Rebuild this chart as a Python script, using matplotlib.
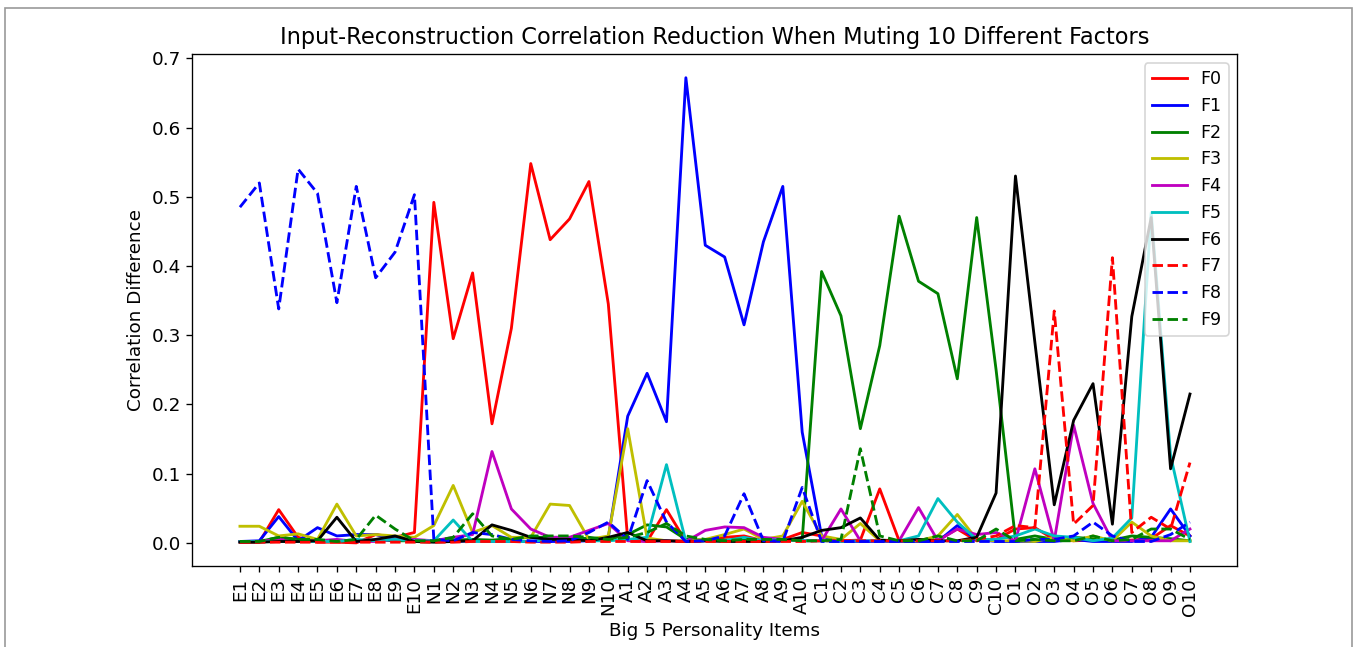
import matplotlib
matplotlib.use("Agg")
import matplotlib.pyplot as plt
from matplotlib.patches import Rectangle

# ===============================
# data
# ===============================
items = ([f"E{i}" for i in range(1, 11)] + [f"N{i}" for i in range(1, 11)]
         + [f"A{i}" for i in range(1, 11)] + [f"C{i}" for i in range(1, 11)]
         + [f"O{i}" for i in range(1, 11)])

f0 = [0.001, 0.001, 0.048, 0.008, 0.001, 0.001, 0.000, 0.012, 0.008, 0.015,
      0.492, 0.295, 0.390, 0.172, 0.310, 0.548, 0.438, 0.468, 0.522, 0.345,
      0.005, 0.002, 0.048, 0.002, 0.003, 0.008, 0.010, 0.003, 0.005, 0.015,
      0.010, 0.003, 0.004, 0.078, 0.003, 0.004, 0.004, 0.020, 0.003, 0.005,
      0.020, 0.022, 0.005, 0.003, 0.004, 0.003, 0.004, 0.006, 0.025, 0.010]
f1 = [0.002, 0.003, 0.038, 0.003, 0.022, 0.010, 0.012, 0.012, 0.006, 0.003,
      0.002, 0.002, 0.003, 0.002, 0.002, 0.002, 0.002, 0.002, 0.003, 0.008,
      0.183, 0.245, 0.175, 0.672, 0.430, 0.413, 0.315, 0.435, 0.515, 0.160,
      0.010, 0.002, 0.002, 0.002, 0.002, 0.002, 0.002, 0.025, 0.005, 0.002,
      0.002, 0.002, 0.002, 0.005, 0.002, 0.002, 0.002, 0.008, 0.049, 0.010]
f2 = [0.002, 0.002, 0.008, 0.005, 0.004, 0.003, 0.003, 0.004, 0.003, 0.003,
      0.003, 0.004, 0.005, 0.004, 0.006, 0.008, 0.008, 0.008, 0.006, 0.005,
      0.012, 0.026, 0.023, 0.005, 0.004, 0.004, 0.004, 0.003, 0.003, 0.005,
      0.392, 0.328, 0.165, 0.285, 0.472, 0.378, 0.360, 0.237, 0.470, 0.250,
      0.005, 0.010, 0.005, 0.008, 0.006, 0.004, 0.010, 0.008, 0.006, 0.003]
f3 = [0.024, 0.024, 0.010, 0.013, 0.005, 0.056, 0.010, 0.012, 0.010, 0.008,
      0.025, 0.083, 0.015, 0.025, 0.008, 0.008, 0.056, 0.054, 0.005, 0.010,
      0.165, 0.007, 0.003, 0.003, 0.005, 0.012, 0.020, 0.005, 0.010, 0.060,
      0.010, 0.005, 0.028, 0.003, 0.003, 0.003, 0.010, 0.041, 0.005, 0.003,
      0.003, 0.002, 0.008, 0.003, 0.010, 0.003, 0.030, 0.010, 0.003, 0.003]
f4 = [0.002, 0.002, 0.005, 0.002, 0.003, 0.005, 0.002, 0.002, 0.005, 0.005,
      0.003, 0.008, 0.012, 0.132, 0.049, 0.020, 0.008, 0.008, 0.018, 0.028,
      0.003, 0.002, 0.003, 0.002, 0.018, 0.023, 0.022, 0.008, 0.005, 0.003,
      0.003, 0.049, 0.003, 0.003, 0.003, 0.051, 0.003, 0.020, 0.012, 0.015,
      0.003, 0.107, 0.003, 0.170, 0.057, 0.003, 0.003, 0.003, 0.003, 0.020]
f5 = [0.002, 0.002, 0.002, 0.002, 0.002, 0.002, 0.005, 0.003, 0.005, 0.003,
      0.003, 0.033, 0.002, 0.002, 0.002, 0.002, 0.005, 0.005, 0.003, 0.003,
      0.005, 0.008, 0.113, 0.002, 0.003, 0.003, 0.008, 0.003, 0.005, 0.003,
      0.003, 0.002, 0.003, 0.003, 0.003, 0.010, 0.064, 0.030, 0.005, 0.005,
      0.010, 0.020, 0.010, 0.008, 0.003, 0.007, 0.036, 0.477, 0.126, 0.002]
f6 = [0.001, 0.001, 0.002, 0.002, 0.003, 0.037, 0.002, 0.005, 0.010, 0.002,
      0.001, 0.002, 0.003, 0.026, 0.018, 0.008, 0.005, 0.005, 0.003, 0.008,
      0.015, 0.003, 0.003, 0.002, 0.003, 0.002, 0.002, 0.002, 0.003, 0.008,
      0.018, 0.022, 0.036, 0.004, 0.003, 0.005, 0.003, 0.003, 0.008, 0.072,
      0.530, 0.290, 0.055, 0.177, 0.230, 0.027, 0.327, 0.470, 0.107, 0.215]
f7 = [0.001, 0.001, 0.001, 0.001, 0.001, 0.001, 0.001, 0.001, 0.001, 0.001,
      0.001, 0.001, 0.002, 0.002, 0.002, 0.001, 0.001, 0.001, 0.002, 0.002,
      0.002, 0.002, 0.002, 0.002, 0.002, 0.002, 0.002, 0.002, 0.002, 0.002,
      0.003, 0.003, 0.003, 0.003, 0.003, 0.003, 0.003, 0.003, 0.005, 0.010,
      0.025, 0.022, 0.335, 0.027, 0.054, 0.412, 0.015, 0.037, 0.020, 0.116]
f8 = [0.485, 0.520, 0.338, 0.540, 0.505, 0.347, 0.515, 0.383, 0.420, 0.503,
      0.005, 0.003, 0.015, 0.012, 0.005, 0.003, 0.002, 0.003, 0.015, 0.030,
      0.005, 0.090, 0.030, 0.002, 0.003, 0.010, 0.071, 0.003, 0.002, 0.080,
      0.002, 0.002, 0.002, 0.002, 0.002, 0.002, 0.002, 0.002, 0.002, 0.002,
      0.002, 0.005, 0.005, 0.010, 0.030, 0.010, 0.002, 0.002, 0.012, 0.030]
f9 = [0.002, 0.002, 0.008, 0.005, 0.005, 0.002, 0.005, 0.040, 0.020, 0.003,
      0.003, 0.008, 0.042, 0.010, 0.005, 0.010, 0.010, 0.010, 0.008, 0.005,
      0.008, 0.015, 0.028, 0.010, 0.005, 0.003, 0.005, 0.005, 0.005, 0.003,
      0.003, 0.005, 0.136, 0.010, 0.003, 0.003, 0.010, 0.003, 0.003, 0.020,
      0.003, 0.005, 0.003, 0.003, 0.010, 0.003, 0.005, 0.020, 0.020, 0.005]

series = [f0, f1, f2, f3, f4, f5, f6, f7, f8, f9]
names = [f"F{i}" for i in range(10)]
styles = ["r-", "b-", "g-", "y-", "m-", "c-", "k-", "r--", "b--", "g--"]

# ===============================
# plot
# ===============================
plt.rcParams["font.size"] = 10.5
plt.rcParams["xtick.labelsize"] = 11
plt.rcParams["ytick.labelsize"] = 11
plt.rcParams["axes.labelsize"] = 11

fig = plt.figure(figsize=(1360 / 120, 647 / 120), dpi=120)
ax = fig.add_axes([0.1415, 0.1250, 0.7684, 0.7908])

x = list(range(len(items)))
for vals, name, st in zip(series, names, styles):
    ax.plot(x, vals, st, label=name, linewidth=1.7)

ax.set_xticks(x)
ax.set_xticklabels(items, rotation=90)
ax.set_xlabel("Big 5 Personality Items")
ax.set_ylabel("Correlation Difference")
ax.set_title("Input-Reconstruction Correlation Reduction When Muting 10 Different Factors",
             fontsize=13.5)
ax.legend(loc="upper right")

# thin frame round the picture
fig.patches.append(Rectangle((5 / 1360, -0.05), 1347 / 1360, 1.05 - 8 / 647,
                             transform=fig.transFigure, fill=False,
                             edgecolor="#999999", linewidth=1.0))

fig.savefig("out.png", dpi=120)
